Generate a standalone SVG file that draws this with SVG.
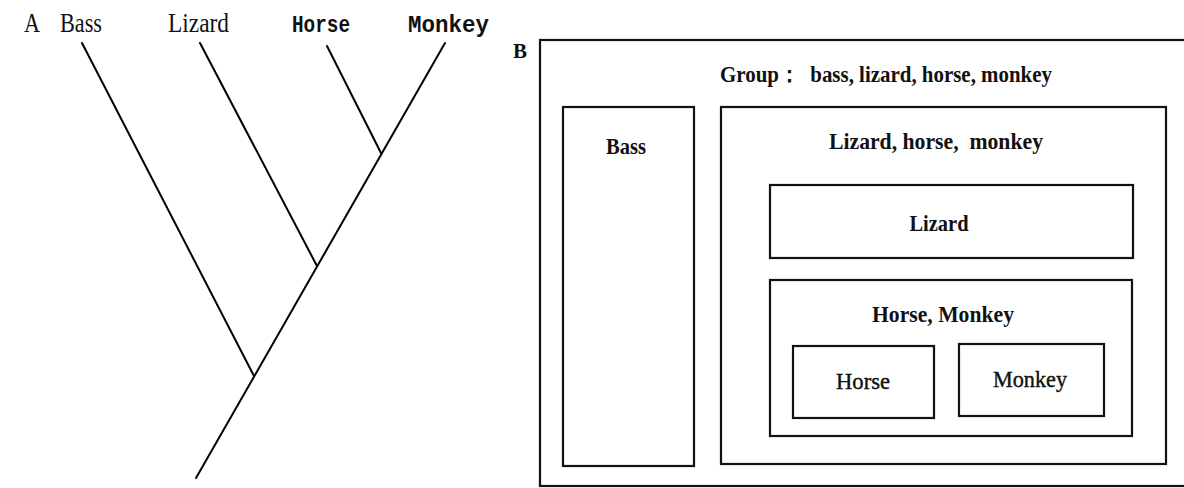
<svg xmlns="http://www.w3.org/2000/svg" width="1184" height="488" viewBox="0 0 1184 488">
<style>
.br{stroke:#000;stroke-width:2;stroke-linecap:round;fill:none}
.box{fill:none;stroke:#111;stroke-width:2.2}
.tl{font-family:"Liberation Serif",serif;font-size:27px;fill:#111}
.tm{font-family:"Liberation Mono",monospace;font-weight:bold;font-size:24px;fill:#111}
.bl{font-family:"Liberation Serif",serif;font-weight:bold;font-size:23px;fill:#111;text-anchor:middle}
.rl{font-family:"Liberation Serif",serif;font-size:24px;fill:#111;stroke:#111;stroke-width:0.4;text-anchor:middle}
</style>
<rect width="1184" height="488" fill="#fff"/>
<g id="panelA">
<text class="tl" x="24" y="32" textLength="16" lengthAdjust="spacingAndGlyphs">A</text>
<g id="tip-bass"><text class="tl" x="60" y="32" textLength="42" lengthAdjust="spacingAndGlyphs">Bass</text></g>
<g id="tip-lizard"><text class="tl" x="168" y="32" textLength="61" lengthAdjust="spacingAndGlyphs">Lizard</text></g>
<g id="tip-horse"><text class="tm" x="292" y="32" textLength="58" lengthAdjust="spacingAndGlyphs">Horse</text></g>
<g id="tip-monkey"><text class="tm" x="408" y="32" textLength="81" lengthAdjust="spacingAndGlyphs">Monkey</text></g>
<g id="tree-branches">
<line class="br" x1="82" y1="43" x2="254" y2="376"/>
<line class="br" x1="200" y1="43" x2="317" y2="266"/>
<line class="br" x1="327" y1="46" x2="381" y2="153"/>
<line class="br" x1="445" y1="43" x2="196" y2="478"/>
</g>
</g>
<g id="panelB">
<text x="513" y="58" style="font-family:'Liberation Serif',serif;font-weight:bold;font-size:21px;fill:#111">B</text>
<g id="group-all">
<rect class="box" x="540" y="40" width="660" height="446"/>
<text class="bl" x="886" y="82" textLength="332" lengthAdjust="spacingAndGlyphs">Group：&#160; bass, lizard, horse, monkey</text>
</g>
<g id="group-bass">
<rect class="box" x="563" y="107" width="131" height="359"/>
<text class="bl" x="626" y="154" textLength="40" lengthAdjust="spacingAndGlyphs">Bass</text>
</g>
<g id="group-lhm">
<rect class="box" x="721" y="107" width="445" height="357"/>
<text class="bl" x="936" y="149" textLength="214" lengthAdjust="spacingAndGlyphs">Lizard, horse,&#160; monkey</text>
</g>
<g id="group-lizard">
<rect class="box" x="770" y="185" width="363" height="73"/>
<text class="bl" x="939" y="231" textLength="59" lengthAdjust="spacingAndGlyphs">Lizard</text>
</g>
<g id="group-hm">
<rect class="box" x="770" y="280" width="362" height="156"/>
<text class="bl" x="943" y="322" textLength="142" lengthAdjust="spacingAndGlyphs">Horse, Monkey</text>
</g>
<g id="group-horse">
<rect class="box" x="793" y="346" width="141" height="72"/>
<text class="rl" x="863" y="389" textLength="54" lengthAdjust="spacingAndGlyphs">Horse</text>
</g>
<g id="group-monkey">
<rect class="box" x="959" y="344" width="145" height="72"/>
<text class="rl" x="1030" y="387" textLength="74" lengthAdjust="spacingAndGlyphs">Monkey</text>
</g>
</g>
</svg>
